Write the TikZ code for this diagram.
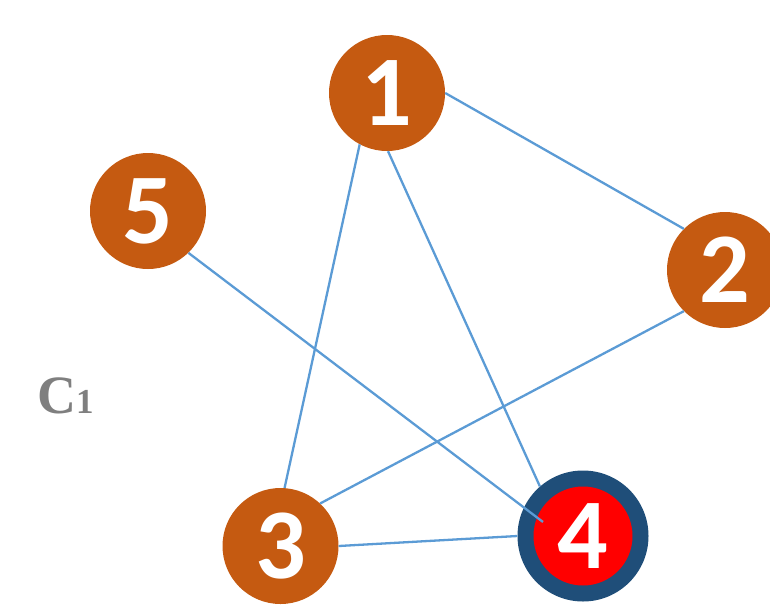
\documentclass[tikz,border=0pt]{standalone}
\usepackage{fontspec}
\newfontfamily\digitfont{Carlito}[BoldFont=* Bold]
\newfontfamily\labelfont{Liberation Serif}
\definecolor{nodeorange}{HTML}{C55A11}
\definecolor{edgeblue}{HTML}{5B9BD5}
\definecolor{ringblue}{HTML}{1F4E79}
\definecolor{labelgray}{HTML}{7F7F7F}
\begin{document}
\begin{tikzpicture}[x=1pt,y=-1pt,
  vtx/.style={circle, fill=nodeorange, inner sep=0pt, minimum size=116pt,
    text=white, font=\digitfont\bfseries\fontsize{100}{100}\selectfont},
  ring/.style={circle, fill=ringblue, inner sep=0pt, minimum size=131pt},
  hot/.style={circle, fill=red, inner sep=0pt, minimum size=99pt,
    text=white, font=\digitfont\bfseries\fontsize{100}{100}\selectfont},
  edge/.style={draw=edgeblue, line width=2.3pt}]
\clip (0,0) rectangle (770,613);
\useasboundingbox (0,0) rectangle (770,613);
\node[vtx] (n1) at (387,93) {1};
\node[vtx] (n5) at (148,211) {5};
\node[vtx] (n2) at (725,270) {2};
\node[vtx] (n3) at (280.5,546) {3};
\node[ring] (n4o) at (583,536) {};
\node[hot] (n4) at (583,536) {4};
\coordinate (e54) at (543,522);
\node[anchor=base west, inner sep=0pt, text=labelgray] (c1) at (37,413)
  {\labelfont\bfseries\fontsize{54}{54}\selectfont C\fontsize{35}{35}\selectfont 1};
\draw[edge] (n1.0) -- (n2.135);
\draw[edge] (n1.-118) -- (n3.86);
\draw[edge] (n1.-89) -- (n4o.131);
\draw[edge] (n2.-135) -- (n3.47);
\draw[edge] (n3.0) -- (n4o.180);
\draw[edge] (n5.-46) -- (e54);
\end{tikzpicture}
\end{document}
